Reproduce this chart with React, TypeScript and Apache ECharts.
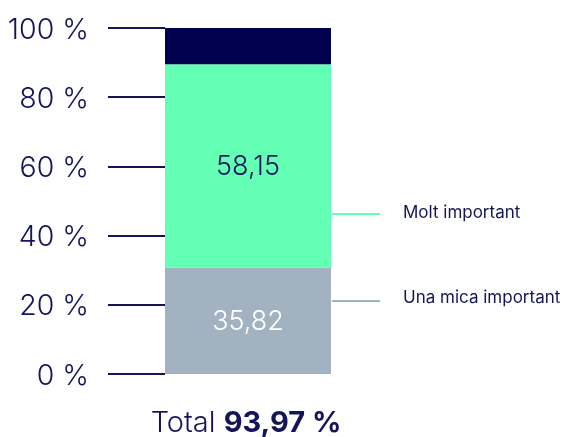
import React, { useEffect, useRef } from "react";
import * as echarts from "echarts";

const categories = ["Total"];
const grayValues = [30.8];
const greenValues = [58.7];
const darkValues = [10.5];
const grayLabels = ["35,82"];
const greenLabels = ["58,15"];
const legendNames = ["Molt important", "Una mica important"];
const totalLabel = "93,97 %";

const NAVY = "#14145a";
const FONT = "Inter, 'Noto Sans', sans-serif";

export default function App() {
  const ref = useRef<HTMLDivElement>(null);
  useEffect(() => {
    if (!ref.current) return;
    const chart = echarts.init(ref.current, null, { renderer: "svg" });
    chart.setOption({
      animation: false,
      textStyle: { fontFamily: FONT },
      grid: { left: 165, right: 235, top: 28, bottom: 63, containLabel: false },
      xAxis: {
        type: "category",
        data: categories,
        show: false,
      },
      yAxis: {
        type: "value",
        min: 0,
        max: 100,
        interval: 20,
        axisLine: { show: false },
        splitLine: { show: false },
        axisTick: { show: true, length: 57, lineStyle: { color: NAVY, width: 2 } },
        axisLabel: {
          formatter: "{value} %",
          fontSize: 28.5,
          fontWeight: 300,
          color: NAVY,
          margin: 76,
          fontFamily: FONT,
        },
      },
      series: [
        {
          type: "bar",
          stack: "s",
          data: grayValues,
          barWidth: "100%",
          itemStyle: { color: "#a3b2c1" },
          label: {
            show: true,
            position: "inside",
            formatter: (p: any) => grayLabels[p.dataIndex],
            color: "#ffffff",
            fontSize: 27,
            fontWeight: 300,
            fontFamily: FONT,
          },
        },
        {
          type: "bar",
          stack: "s",
          data: greenValues,
          barWidth: "100%",
          itemStyle: { color: "#63ffb5" },
          label: {
            show: true,
            position: "inside",
            formatter: (p: any) => greenLabels[p.dataIndex],
            color: NAVY,
            fontSize: 27,
            fontWeight: 300,
            fontFamily: FONT,
          },
        },
        {
          type: "bar",
          stack: "s",
          data: darkValues,
          barWidth: "100%",
          itemStyle: { color: "#00004f" },
          label: { show: false },
        },
      ],
      graphic: [
        {
          type: "line",
          shape: { x1: 332, y1: 214, x2: 380, y2: 214 },
          style: { stroke: "#63ffb5", lineWidth: 2 },
        },
        {
          type: "line",
          shape: { x1: 332, y1: 301, x2: 380, y2: 301 },
          style: { stroke: "#a3b2c1", lineWidth: 2 },
        },
        {
          type: "text",
          x: 403,
          y: 212,
          style: {
            text: legendNames[0],
            fill: NAVY,
            fontSize: 17,
            fontFamily: FONT,
            verticalAlign: "middle",
            align: "left",
          },
        },
        {
          type: "text",
          x: 403,
          y: 297,
          style: {
            text: legendNames[1],
            fill: NAVY,
            fontSize: 17,
            fontFamily: FONT,
            verticalAlign: "middle",
            align: "left",
          },
        },
        {
          type: "text",
          x: 246,
          y: 421,
          style: {
            text: "{a|Total }{b|" + totalLabel + "}",
            align: "center",
            verticalAlign: "middle",
            rich: {
              a: { fontSize: 29, fontWeight: 300, fill: NAVY, fontFamily: FONT },
              b: { fontSize: 29, fontWeight: 700, fill: NAVY, fontFamily: FONT },
            },
          },
        },
      ],
    });
    return () => chart.dispose();
  }, []);
  return (
    <div
      ref={ref}
      style={{ position: "fixed", left: 0, top: 0, width: 566, height: 437 }}
    />
  );
}
